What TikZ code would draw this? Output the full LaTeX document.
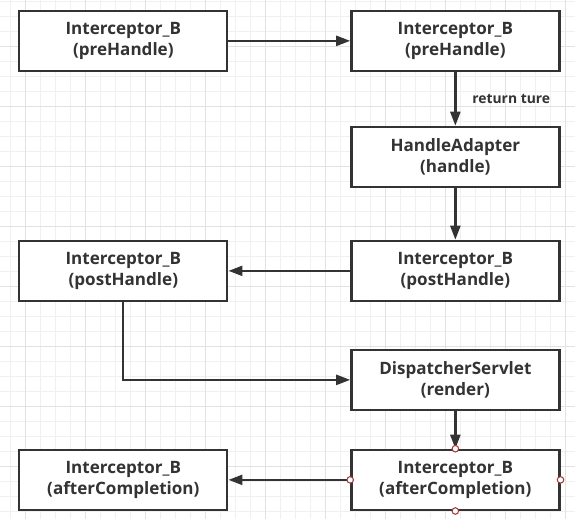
\documentclass[tikz,border=0pt]{standalone}
\usepackage{fontspec}
\setmainfont{Open Sans}
\usetikzlibrary{arrows.meta}
\definecolor{InkGrey}{HTML}{333333}
\definecolor{GridMinor}{HTML}{F0F0F0}
\definecolor{GridMajor}{HTML}{E2E2E2}
\definecolor{HandleRed}{HTML}{A33A3A}

\begin{document}
\begin{tikzpicture}
\tikzstyle{block} = [rectangle, draw=InkGrey, line width=1.3pt, fill=white,
    minimum width=4.16cm, minimum height=1.2cm, align=center, text=InkGrey,
    font=\fontsize{9.7}{12}\selectfont\bfseries]
\tikzstyle{arrow} = [draw=InkGrey, line width=1.3pt, -{Triangle[length=0.28cm, width=0.2cm]}]
\tikzstyle{edgetext} = [text=InkGrey, font=\fontsize{7.9}{9.5}\selectfont\bfseries]
\tikzstyle{selpt} = [circle, draw=HandleRed, line width=0.6pt, fill=white,
    inner sep=0pt, minimum size=0.13cm]

% canvas and grid
\useasboundingbox (0,0) rectangle (11.5,-10.38);
\fill [white] (0,0) rectangle (11.5,-10.38);
\foreach \x in {0,...,37}
  \draw [GridMinor, line width=0.55pt] (0.206+0.3*\x,0) -- (0.206+0.3*\x,-10.38);
\foreach \y in {0,...,34}
  \draw [GridMinor, line width=0.55pt] (0,-0.02-0.3*\y) -- (11.5,-0.02-0.3*\y);
\foreach \x in {0,...,9}
  \draw [GridMajor, line width=0.55pt] (0.506+1.2*\x,0) -- (0.506+1.2*\x,-10.38);
\foreach \y in {0,...,7}
  \draw [GridMajor, line width=0.55pt] (0,-0.92-1.2*\y) -- (11.5,-0.92-1.2*\y);

% preHandle
\node [block] (pre1) at (2.467,-0.817) {Interceptor\_B\\(preHandle)};
\node [block, right of=pre1, node distance=6.64cm] (pre2) {Interceptor\_B\\(preHandle)};
\path [arrow] (pre1) -- (pre2);
%
\node [block, below of=pre2, node distance=2.32cm] (adapter) {HandleAdapter\\(handle)};
\path [arrow] (pre2) -- node [edgetext, right=0.2cm] (ret) {return ture} (adapter);
%
\node [block, below of=adapter, node distance=2.28cm] (post2) {Interceptor\_B\\(postHandle)};
\path [arrow] (adapter) -- (post2);
\node [block, left of=post2, node distance=6.64cm] (post1) {Interceptor\_B\\(postHandle)};
\path [arrow] (post2) -- (post1);
%
\node [block, below of=post2, node distance=2.18cm] (render) {DispatcherServlet\\(render)};
\path [arrow] (post1.south) |- (render.west);
%
\node [block, below of=render, node distance=2.0cm] (after2) {Interceptor\_B\\(afterCompletion)};
\path [arrow] (render) -- (after2);
\node [block, left of=after2, node distance=6.64cm] (after1) {Interceptor\_B\\(afterCompletion)};
\path [arrow] (after2) -- (after1);
%
\node [selpt] (h1) at (after2.north) {};
\node [selpt] (h2) at (after2.south) {};
\node [selpt] (h3) at (after2.west) {};
\node [selpt] (h4) at (after2.east) {};

\end{tikzpicture}
\end{document}
